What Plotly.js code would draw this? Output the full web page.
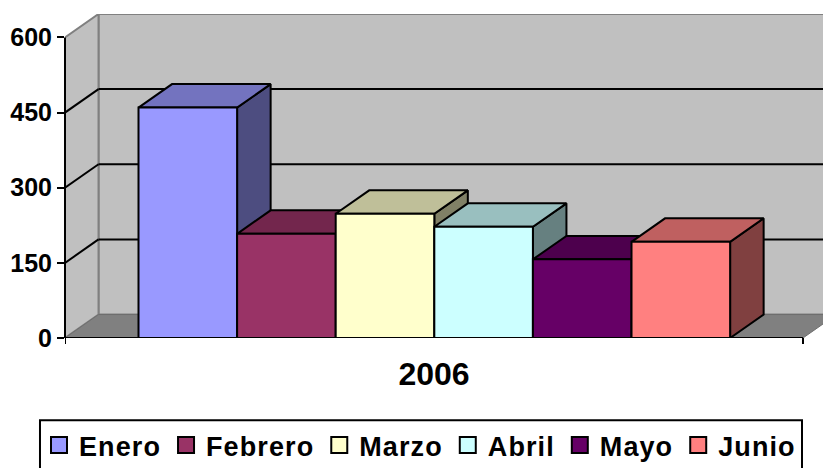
<!DOCTYPE html>
<html>
<head>
<meta charset="utf-8">
<script src="https://cdn.plot.ly/plotly-3.0.1.min.js"></script>
<style>
html, body { margin: 0; padding: 0; background: #fff; overflow: hidden; }
/* the original text is a stretched bitmap, a little tracking gets the widths right */
.legendtext { letter-spacing: 1.1px; }
</style>
</head>
<body>
<div id="myPlot" style="width:823px;height:468px;"></div>
<script>
var months = ["Enero", "Febrero", "Marzo", "Abril", "Mayo", "Junio"];
var values2006 = [460, 208, 248, 222, 157, 192];
var colors = ["#9999FF", "#993366", "#FFFFCC", "#CCFFFF", "#660066", "#FF8080"];
var yTicks = [0, 150, 300, 450, 600];
var yearLabel = "2006";

// axis ranges: one bar is 1 x unit wide
var xMin = -0.7454, xMax = 6.942, xFrontEnd = 6.739;
var yMax = 646.8;
// depth of the fake 3d box in axis units
var dx = 0.34, dy = 46.84;

function shade(hex, k) {
    var r = parseInt(hex.substr(1, 2), 16), g = parseInt(hex.substr(3, 2), 16), b = parseInt(hex.substr(5, 2), 16);
    return "rgb(" + Math.round(r * k) + "," + Math.round(g * k) + "," + Math.round(b * k) + ")";
}

function poly(xs, ys, fill, name) {
    return {
        x: xs.concat(xs[0]), y: ys.concat(ys[0]),
        mode: "lines", fill: "toself", fillcolor: fill,
        line: { color: "#000", width: 2 },
        hoverinfo: "name", name: name, showlegend: false
    };
}

function pathOf(xs, ys) {
    var d = "";
    xs.forEach(function (x, i) { d += (i ? "L" : "M") + x + "," + ys[i]; });
    return d + "Z";
}

var data = [];

// bars are painted left to right so the next one hides the side of the last
months.forEach(function (m, i) {
    var v = values2006[i];
    data.push(poly([i + 1, i + 1 + dx, i + 1 + dx, i + 1], [0, dy, v + dy, v], shade(colors[i], 0.5), m));
    data.push(poly([i, i + dx, i + 1 + dx, i + 1], [v, v + dy, v + dy, v], shade(colors[i], 0.75), m));
    data.push(poly([i, i + 1, i + 1, i], [0, 0, v, v], colors[i], m));
});

// legend entries
months.forEach(function (m, i) {
    data.push({
        x: [null], y: [null], name: m, mode: "markers",
        marker: { symbol: "square", size: 17, color: colors[i], line: { color: "#000", width: 2 } }
    });
});

var wallGrey = "#808080";
var shapes = [
    // back wall
    { type: "rect", layer: "below", xref: "x", yref: "y", x0: xMin + dx, x1: xMax + 1, y0: dy, y1: yMax,
      fillcolor: "#C0C0C0", line: { color: wallGrey, width: 2 } },
    // left wall
    { type: "path", layer: "below", xref: "x", yref: "y",
      path: pathOf([xMin, xMin + dx, xMin + dx, xMin], [0, dy, 600 + dy, 600]),
      fillcolor: "#C0C0C0", line: { color: wallGrey, width: 2 } },
    // floor
    { type: "path", layer: "below", xref: "x", yref: "y",
      path: pathOf([xMin, xMin + dx, xFrontEnd + dx, xFrontEnd], [0, dy, dy, 0]),
      fillcolor: wallGrey, line: { color: "#6e6e6e", width: 1 } },
    // axis lines and end ticks, kept on paper x/y so the plot clip does not cut them
    { type: "line", layer: "above", xref: "paper", yref: "y", x0: 0, x1: 0, y0: 0, y1: 600, line: { color: "#000", width: 2 } },
    { type: "line", layer: "above", xref: "x", yref: "y", x0: xMin, x1: xFrontEnd, y0: 0, y1: 0, line: { color: "#000", width: 2 } },
    { type: "line", layer: "above", xref: "x", yref: "paper", x0: xMin, x1: xMin, y0: 0, y1: -0.0185, line: { color: "#000", width: 2 } },
    { type: "line", layer: "above", xref: "x", yref: "paper", x0: xFrontEnd, x1: xFrontEnd, y0: 0, y1: -0.0185, line: { color: "#000", width: 2 } },
    // legend box
    { type: "rect", layer: "below", xref: "paper", yref: "paper", x0: -0.033, x1: 0.9723, y0: -0.2535, y1: -0.41,
      fillcolor: "#fff", line: { color: "#000", width: 2 } }
];

// grid lines run across the left wall and then along the back wall
yTicks.slice(1, 4).forEach(function (v) {
    shapes.push({ type: "line", layer: "below", xref: "x", yref: "y", x0: xMin, x1: xMin + dx, y0: v, y1: v + dy, line: { color: "#000", width: 2 } });
    shapes.push({ type: "line", layer: "below", xref: "x", yref: "y", x0: xMin + dx, x1: xMax, y0: v + dy, y1: v + dy, line: { color: "#000", width: 2 } });
});

var layout = {
    width: 823, height: 468,
    margin: { l: 65, r: 0, t: 14, b: 129.5, pad: 0 },
    paper_bgcolor: "#fff", plot_bgcolor: "#fff",
    font: { family: "Liberation Sans, Arial, sans-serif", color: "#000" },
    xaxis: {
        range: [xMin, xMax], showgrid: false, zeroline: false, showline: false,
        tickmode: "array", tickvals: [(xMin + xFrontEnd) / 2], ticktext: ["<b>" + yearLabel + "</b>"],
        ticks: "", ticklabelstandoff: 14, tickfont: { size: 32 }
    },
    yaxis: {
        range: [0, yMax], showgrid: false, zeroline: false, showline: false,
        tickmode: "array", tickvals: yTicks, ticktext: yTicks.map(function (t) { return "<b>" + t + "</b>"; }),
        ticks: "outside", ticklen: 7, tickwidth: 2, tickcolor: "#000", tickfont: { size: 25 }
    },
    shapes: shapes,
    showlegend: true,
    legend: {
        orientation: "h", xref: "container", yref: "container",
        x: 39 / 823, xanchor: "left", y: 47 / 468, yanchor: "top",
        bgcolor: "rgba(0,0,0,0)", borderwidth: 0, itemwidth: 30, itemsizing: "trace",
        font: { size: 27, weight: "bold" }, itemclick: false, itemdoubleclick: false
    }
};

Plotly.newPlot("myPlot", data, layout, { displayModeBar: false, responsive: false });
</script>
</body>
</html>
